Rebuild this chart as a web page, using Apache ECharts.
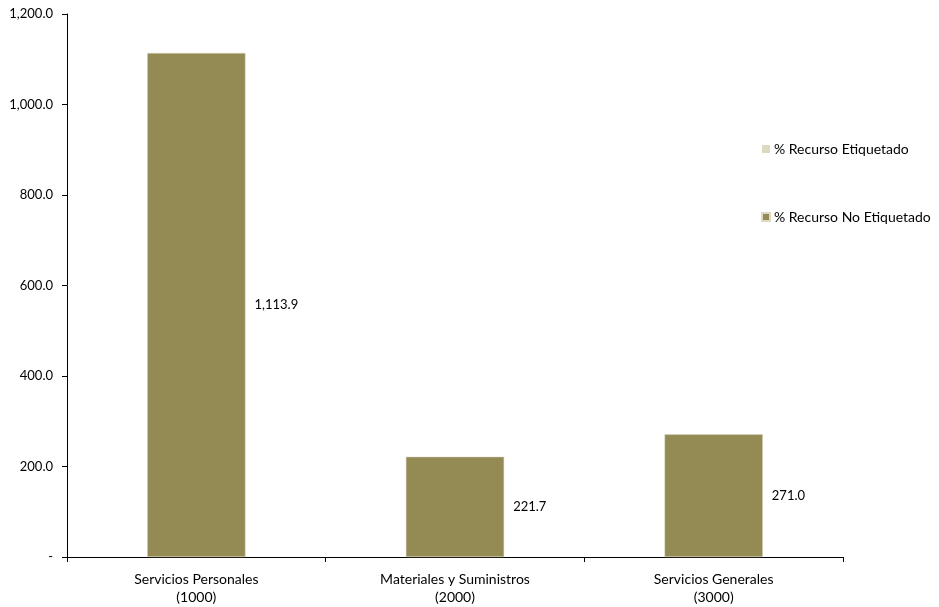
<!DOCTYPE html>
<html>
<head>
<meta charset="utf-8">
<script src="https://cdn.jsdelivr.net/npm/echarts@6/dist/echarts.min.js"></script>
<style>html,body{margin:0;padding:0;background:#fff}#c{width:939px;height:607px}</style>
</head>
<body>
<div id="c"></div>
<script>
const categories = ['Servicios Personales\n(1000)', 'Materiales y Suministros\n(2000)', 'Servicios Generales\n(3000)'];
const seriesNames = ['% Recurso Etiquetado', '% Recurso No Etiquetado'];
const etiquetado = [0, 0, 0];
const noEtiquetado = [1113.9, 221.7, 271.0];
const yTicks = { min: 0, max: 1200, interval: 200 };

function fmt(v) {
  if (v === 0) return '-';
  return Number(v).toLocaleString('en-US', { minimumFractionDigits: 1, maximumFractionDigits: 1 });
}
const font = 'Lato, "DejaVu Sans", sans-serif';
const chart = echarts.init(document.getElementById('c'));
chart.setOption({
  animation: false,
  textStyle: { fontFamily: font },
  grid: { left: 67, right: 96, top: 14, bottom: 50 },
  legend: {
    orient: 'vertical', left: 756, top: 137, itemWidth: 8, itemHeight: 8, itemGap: 54,
    icon: 'rect',
    textStyle: { fontFamily: font, fontSize: 14, color: '#000', padding: [0, 0, 0, -1] },
    data: seriesNames
  },
  xAxis: {
    type: 'category', data: categories,
    axisLine: { lineStyle: { color: '#000', width: 1 } },
    axisTick: { show: true, length: 5, lineStyle: { color: '#000' } },
    axisLabel: { color: '#000', fontSize: 14, fontFamily: font, margin: 13, lineHeight: 18 }
  },
  yAxis: {
    type: 'value', min: yTicks.min, max: yTicks.max, interval: yTicks.interval,
    axisLine: { show: true, lineStyle: { color: '#000' } },
    axisTick: { show: true, length: 5, lineStyle: { color: '#000' } },
    splitLine: { show: false },
    axisLabel: { color: '#000', fontSize: 13, fontFamily: font, margin: 14, formatter: fmt }
  },
  series: [
    {
      name: seriesNames[0], type: 'bar', stack: 't', data: etiquetado, barWidth: '38%',
      itemStyle: { color: '#DDD9C3' }
    },
    {
      name: seriesNames[1], type: 'bar', stack: 't', data: noEtiquetado, barWidth: '38%',
      itemStyle: { color: '#948A54', borderColor: '#DDD9C3', borderWidth: 0.5 },
      label: { show: true, position: 'right', distance: 9, color: '#000', fontSize: 13, fontFamily: font, formatter: p => fmt(p.value) }
    }
  ]
});
</script>
</body>
</html>
